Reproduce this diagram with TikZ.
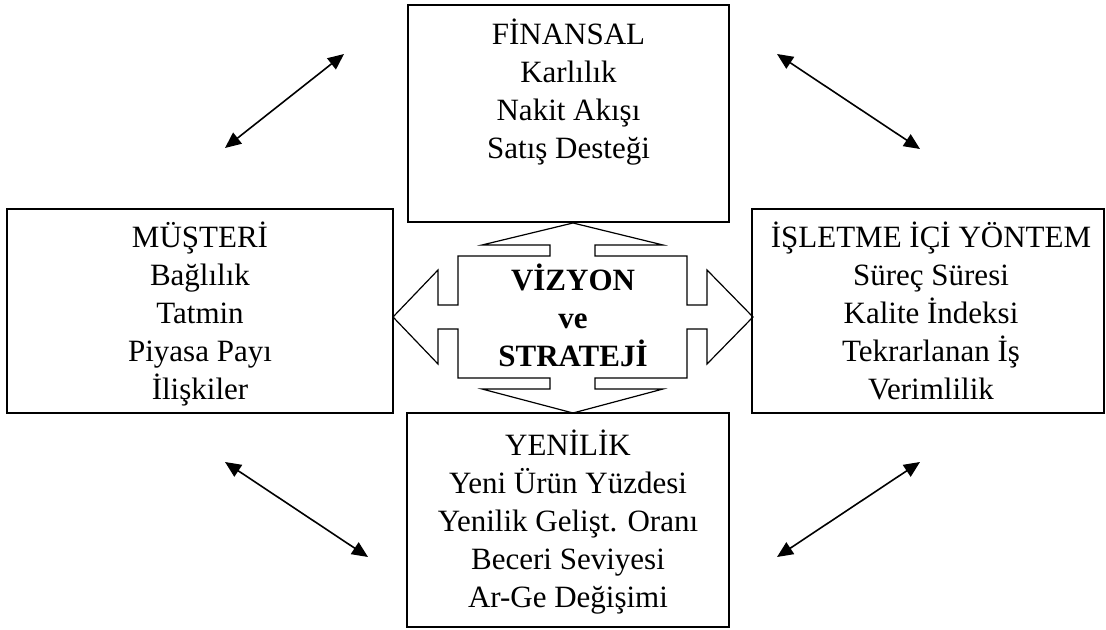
\documentclass[tikz,border=0pt]{standalone}
\usepackage{fontspec}
\setmainfont{Liberation Serif}
\usetikzlibrary{arrows.meta}

\tikzset{
    kutu/.style={draw, line width=1.1pt, inner sep=0pt, outer sep=0pt},
    yazi/.style={align=center, inner sep=0pt, anchor=base, font=\fontsize{23.25}{28.5}\selectfont},
    kalin/.style={yazi, font=\fontsize{23.25}{28.5}\selectfont\bfseries},
    ok/.style={{Triangle[length=12pt,width=10.5pt]}-{Triangle[length=12pt,width=10.5pt]}, line width=1.2pt},
}

\begin{document}
\begin{tikzpicture}[x=0.75pt, y=-0.75pt]
    \useasboundingbox (0,0) rectangle (1106,630);
    % kutular
    \node[kutu, minimum width=240.75pt, minimum height=162.75pt] (finansal) at (568.5,113.5) {};
    \node[kutu, minimum width=289.5pt, minimum height=153pt] (musteri) at (200,311) {};
    \node[kutu, minimum width=264pt, minimum height=153pt] (isletme) at (928,311) {};
    \node[kutu, minimum width=241.5pt, minimum height=160.5pt] (yenilik) at (568,520) {};
    % orta ok
    \draw[line width=0.9pt] (573,223) -- (663,245) -- (595,245) -- (595,256) -- (687,256)
        -- (687,305) -- (707,305) -- (707,270) -- (753,317) -- (707,364) -- (707,329)
        -- (687,329) -- (687,378) -- (595,378) -- (595,389) -- (663,389) -- (573,413)
        -- (482,389) -- (550,389) -- (550,378) -- (458,378) -- (458,329) -- (438,329)
        -- (438,364) -- (393,317) -- (438,270) -- (438,305) -- (458,305) -- (458,256)
        -- (550,256) -- (550,245) -- (482,245) -- cycle;
    % yazilar (base = son satir)
    \node[yazi] (finansal yazi) at (568.5,159) {FİNANSAL\\Karlılık\\Nakit Akışı\\Satış Desteği};
    \node[yazi] (musteri yazi) at (200,400) {MÜŞTERİ\\Bağlılık\\Tatmin\\Piyasa Payı\\İlişkiler};
    \node[yazi] (isletme yazi) at (931,400) {İŞLETME İÇİ YÖNTEM\\Süreç Süresi\\Kalite İndeksi\\Tekrarlanan İş\\Verimlilik};
    \node[yazi] (yenilik yazi) at (568,607) {YENİLİK\\Yeni Ürün Yüzdesi\\Yenilik Gelişt. Oranı\\Beceri Seviyesi\\Ar-Ge Değişimi};
    \node[kalin] (vizyon) at (573,367) {VİZYON\\ve\\STRATEJİ};
    % cift yonlu oklar
    \coordinate (ss1) at (225,148);
    \coordinate (ss2) at (344,54);
    \coordinate (ss3) at (777,54);
    \coordinate (ss4) at (920,149);
    \coordinate (as1) at (225,462);
    \coordinate (as2) at (368,557);
    \coordinate (as3) at (777,557);
    \coordinate (as4) at (920,462);
    \draw[ok] (ss1) -- (ss2);
    \draw[ok] (ss3) -- (ss4);
    \draw[ok] (as1) -- (as2);
    \draw[ok] (as3) -- (as4);
\end{tikzpicture}
\end{document}
